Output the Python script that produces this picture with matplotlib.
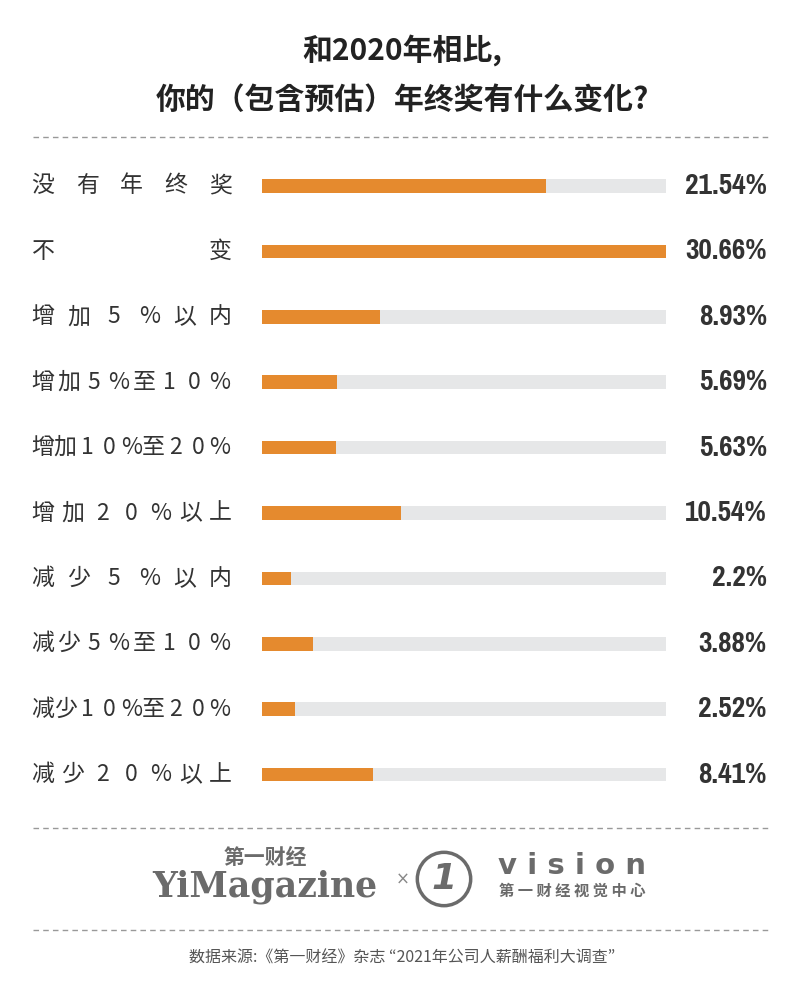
import matplotlib.pyplot as plt
from matplotlib import font_manager
from matplotlib.font_manager import FontProperties
from matplotlib.patches import Circle

categories = ['没有年终奖', '不变', '增加5%以内', '增加5%至10%', '增加10%至20%',
              '增加20%以上', '减少5%以内', '减少5%至10%', '减少10%至20%', '减少20%以上']
values = [21.54, 30.66, 8.93, 5.69, 5.63, 10.54, 2.2, 3.88, 2.52, 8.41]
value_labels = ['21.54%', '30.66%', '8.93%', '5.69%', '5.63%', '10.54%', '2.2%', '3.88%', '2.52%', '8.41%']

# locate CJK sans fonts by file, in case family names do not resolve
files = font_manager.findSystemFonts()
cjk = [f for f in files if 'cjk' in f.lower() and 'serif' not in f.lower()]
def pick(words, pool):
    for f in pool:
        if all(w.lower() in f.lower() for w in words):
            return f
    return None
cjk_reg = pick(['Regular'], cjk) or (cjk[0] if cjk else None)
cjk_bold = pick(['Bold'], cjk) or cjk_reg

def cjk_font(path, size, weight='bold'):
    if path:
        return FontProperties(fname=path, size=size)
    return FontProperties(family='DejaVu Sans', weight=weight, size=size)

narrow = [f for f in files if 'Narrow' in f and 'Bold' in f and 'Italic' not in f]
fp_num = FontProperties(fname=narrow[0], size=23) if narrow else FontProperties(family='DejaVu Sans', weight='bold', size=19)

W, H = 804, 1000
fig = plt.figure(figsize=(W / 100, H / 100), dpi=100)
fig.patch.set_facecolor('white')

def fx(px):
    return px / W

def fy(py):
    return 1 - py / H

# bars
row = 65.4
top = 186 - row / 2
ax = fig.add_axes([fx(262), fy(top + row * 10), fx(666) - fx(262), (row * 10) / H])
ax.set_xlim(0, max(values))
ax.set_ylim(len(values) - 0.5, -0.5)
ys = range(len(values))
ax.barh(ys, [max(values)] * len(values), height=0.21, color='#e6e7e8')
ax.barh(ys, values, height=0.21, color='#e58a2e')
ax.axis('off')

# left labels, characters spread evenly between 33 and 230 px
fp_lab = cjk_font(cjk_reg, 16.5, 'normal')
for i, lab in enumerate(categories):
    y = fy(186 + row * i)
    n = len(lab)
    for j, ch in enumerate(lab):
        x = 43 + (220 - 43) * j / (n - 1)
        fig.text(fx(x), y, ch, ha='center', va='center', fontproperties=fp_lab, color='#333333')
    fig.text(fx(767), y, value_labels[i], ha='right', va='center',
             fontproperties=fp_num, color='#333333')

# title
fp_title = cjk_font(cjk_bold, 21.5)
fig.text(0.5, fy(50), '和2020年相比,', ha='center', va='center',
         fontproperties=fp_title, color='#222222')
fig.text(0.5, fy(100), '你的（包含预估）年终奖有什么变化?', ha='center', va='center',
         fontproperties=fp_title, color='#222222')

# dashed separators
for py in (137, 828, 930):
    fig.add_artist(plt.Line2D([fx(33), fx(770)], [fy(py), fy(py)], color='#999999',
                              lw=1, ls=(0, (4, 3))))

# logos
grey = '#6b6b6b'
fig.text(fx(265), fy(857), '第一财经', ha='center', va='center',
         fontproperties=cjk_font(cjk_bold, 15), color=grey)
fig.text(fx(265), fy(887), 'YiMagazine', ha='center', va='center', fontsize=25,
         fontweight='bold', family='DejaVu Serif', color=grey)
fig.text(fx(403), fy(880), '×', ha='center', va='center', fontsize=12, color='#888888')
cax = fig.add_axes([fx(415), fy(908), 58 / W, 58 / H])
cax.set_xlim(-1, 1)
cax.set_ylim(-1, 1)
cax.set_aspect('equal')
cax.add_patch(Circle((0, 0), 0.92, fill=False, ec=grey, lw=2.5))
cax.text(0, 0, '1', ha='center', va='center', fontsize=26, fontweight='bold',
         style='italic', family='DejaVu Sans', color=grey)
cax.axis('off')
fig.text(fx(572), fy(866), 'v i s i o n', ha='center', va='center', fontsize=21,
         fontweight='bold', family='DejaVu Sans', color=grey)
fig.text(fx(572), fy(891), '第 一 财 经 视 觉 中 心', ha='center', va='center',
         fontproperties=cjk_font(cjk_bold, 11), color=grey)

fig.text(0.5, fy(958), '数据来源:《第一财经》杂志 “2021年公司人薪酬福利大调查”', ha='center',
         va='center', fontproperties=cjk_font(cjk_reg, 11.5, 'normal'), color='#555555')

fig.savefig('out.png', dpi=100)
